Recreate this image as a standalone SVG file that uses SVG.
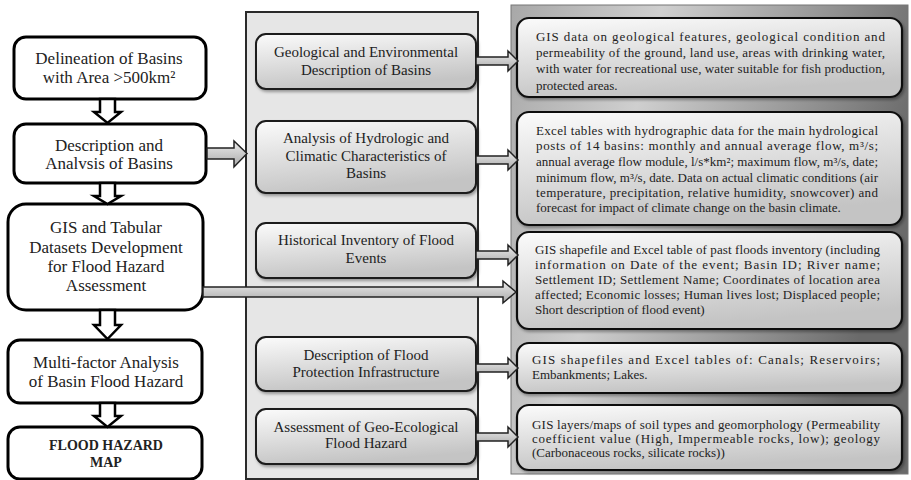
<svg xmlns="http://www.w3.org/2000/svg" width="911" height="480" viewBox="0 0 911 480">
<defs>
<linearGradient id="rp" x1="0" y1="0" x2="1" y2="0.3">
<stop offset="0" stop-color="#a8a8a8"/>
<stop offset="0.35" stop-color="#cfcfcf"/>
<stop offset="0.7" stop-color="#9a9a9a"/>
<stop offset="1" stop-color="#6a6a6a"/>
</linearGradient>
<linearGradient id="bx" x1="0" y1="0" x2="0.3" y2="1">
<stop offset="0" stop-color="#fbfbfb"/>
<stop offset="1" stop-color="#c4c4c4"/>
</linearGradient>
<linearGradient id="ar" x1="0" y1="0" x2="0" y2="1">
<stop offset="0" stop-color="#ececec"/>
<stop offset="1" stop-color="#a9a9a9"/>
</linearGradient>
<filter id="sh" x="-5%" y="-10%" width="115%" height="130%">
<feDropShadow dx="1.5" dy="2" stdDeviation="1.5" flood-color="#000" flood-opacity="0.35"/>
</filter>
</defs>
<style>
.lb{fill:#fff;stroke:#000;stroke-width:3}
.mb{fill:url(#bx);stroke:#1a1a1a;stroke-width:2;filter:url(#sh)}
.rb{fill:url(#bx);stroke:#111;stroke-width:2.2;filter:url(#sh)}
.lt{font-family:"Liberation Serif",serif;font-size:17px;fill:#222;text-anchor:middle}
.lbold{font-family:"Liberation Serif",serif;font-size:14px;font-weight:bold;fill:#222;text-anchor:middle}
.mt{font-family:"Liberation Serif",serif;font-size:15px;fill:#222;text-anchor:middle}
.rt{font-family:"Liberation Serif",serif;font-size:13px;fill:#222}
.da{fill:#fff;stroke:#000;stroke-width:2.5;stroke-linejoin:miter}
.ha{fill:url(#ar);stroke:#222;stroke-width:1.5}
</style>

<rect x="511" y="5" width="397" height="469" fill="url(#rp)" stroke="#777" stroke-width="1"/>
<rect x="246" y="12" width="232" height="467" fill="#e6e6e6" stroke="#2a2a2a" stroke-width="2"/>

<g id="n1"><rect class="lb" x="14" y="37" width="192" height="62" rx="12"/>
<text class="lt" x="109" y="64">Delineation of Basins</text>
<text class="lt" x="109" y="83">with Area &gt;500km²</text></g>
<g id="n2"><rect class="lb" x="14" y="124" width="192" height="59" rx="12"/>
<text class="lt" x="109" y="151">Description and</text>
<text class="lt" x="109" y="169">Analvsis of Basins</text></g>
<g id="n3"><rect class="lb" x="8" y="204" width="195" height="106" rx="18"/>
<text class="lt" x="106" y="233">GIS and Tabular</text>
<text class="lt" x="106" y="253">Datasets Development</text>
<text class="lt" x="106" y="272">for Flood Hazard</text>
<text class="lt" x="106" y="291">Assessment</text></g>
<g id="n4"><rect class="lb" x="8" y="340" width="194" height="63" rx="12"/>
<text class="lt" x="106" y="368">Multi-factor Analysis</text>
<text class="lt" x="106" y="387">of Basin Flood Hazard</text></g>
<g id="n5"><rect class="lb" x="8" y="427" width="194" height="52" rx="12"/>
<text class="lbold" x="106" y="450">FLOOD  HAZARD</text>
<text class="lbold" x="106" y="467">MAP</text></g>

<g id="m1"><rect class="mb" x="256" y="34" width="220" height="55" rx="10"/>
<text class="mt" x="366" y="57">Geological and Environmental</text>
<text class="mt" x="366" y="75">Description of Basins</text></g>
<g id="m2"><rect class="mb" x="256" y="121" width="220" height="72" rx="10"/>
<text class="mt" x="366" y="143">Analysis of Hydrologic and</text>
<text class="mt" x="366" y="161">Climatic Characteristics of</text>
<text class="mt" x="366" y="178">Basins</text></g>
<g id="m3"><rect class="mb" x="256" y="223" width="220" height="55" rx="10"/>
<text class="mt" x="366" y="245">Historical Inventory of Flood</text>
<text class="mt" x="366" y="263">Events</text></g>
<g id="m4"><rect class="mb" x="256" y="337" width="220" height="54" rx="10"/>
<text class="mt" x="366" y="360">Description of Flood</text>
<text class="mt" x="366" y="377">Protection Infrastructure</text></g>
<g id="m5"><rect class="mb" x="256" y="409" width="220" height="55" rx="10"/>
<text class="mt" x="366" y="432">Assessment of Geo-Ecological</text>
<text class="mt" x="366" y="448">Flood Hazard</text></g>

<g id="r1"><rect class="rb" x="517" y="18" width="385" height="79" rx="12"/>
<text class="rt" x="536" y="41" textLength="349" lengthAdjust="spacing">GIS data on geological features, geological condition and</text>
<text class="rt" x="536" y="57" textLength="349" lengthAdjust="spacing">permeability of the ground, land use, areas with drinking water,</text>
<text class="rt" x="536" y="73" textLength="349" lengthAdjust="spacing">with water for recreational use, water suitable for fish production,</text>
<text class="rt" x="536" y="90">protected areas.</text></g>
<g id="r2"><rect class="rb" x="517" y="112" width="385" height="113" rx="12"/>
<text class="rt" x="536" y="135" textLength="342" lengthAdjust="spacing">Excel tables with hydrographic data for the main hydrological</text>
<text class="rt" x="536" y="150" textLength="342" lengthAdjust="spacing">posts of 14 basins: monthly and annual average flow, m³/s;</text>
<text class="rt" x="536" y="166" textLength="342" lengthAdjust="spacing">annual average flow module, l/s*km²; maximum flow, m³/s, date;</text>
<text class="rt" x="536" y="182" textLength="342" lengthAdjust="spacing">minimum flow, m³/s, date. Data on actual climatic conditions (air</text>
<text class="rt" x="536" y="197" textLength="342" lengthAdjust="spacing">temperature, precipitation, relative humidity, snowcover) and</text>
<text class="rt" x="536" y="212">forecast for impact of climate change on the basin climate.</text></g>
<g id="r3"><rect class="rb" x="517" y="232" width="385" height="97" rx="12"/>
<text class="rt" x="535" y="254" textLength="345" lengthAdjust="spacing">GIS shapefile and Excel table of past floods  inventory (including</text>
<text class="rt" x="535" y="269" textLength="345" lengthAdjust="spacing">information on Date of the event; Basin ID; River name;</text>
<text class="rt" x="535" y="284" textLength="345" lengthAdjust="spacing">Settlement ID; Settlement Name; Coordinates of location area</text>
<text class="rt" x="535" y="299" textLength="345" lengthAdjust="spacing">affected; Economic losses; Human lives lost; Displaced people;</text>
<text class="rt" x="535" y="314">Short description of flood event)</text></g>
<g id="r4"><rect class="rb" x="517" y="343" width="385" height="50" rx="12"/>
<text class="rt" x="532" y="364" textLength="348" lengthAdjust="spacing">GIS shapefiles and Excel tables of: Canals; Reservoirs;</text>
<text class="rt" x="532" y="379">Embankments; Lakes.</text></g>
<g id="r5"><rect class="rb" x="517" y="405" width="385" height="65" rx="12"/>
<text class="rt" x="532" y="429" textLength="348" lengthAdjust="spacing">GIS layers/maps of soil types and geomorphology (Permeability</text>
<text class="rt" x="532" y="443" textLength="348" lengthAdjust="spacing">coefficient value (High, Impermeable rocks, low); geology</text>
<text class="rt" x="532" y="457">(Carbonaceous rocks, silicate rocks))</text></g>

<g id="connectors">
<polygon class="da" points="100,99 115,99 115,112 121,112 107.5,123 94,112 100,112"/>
<polygon class="da" points="100,183 115,183 115,196 121,196 107.5,204 94,196 100,196"/>
<polygon class="da" points="100,310 115,310 115,325 121,325 107.5,339 94,325 100,325"/>
<polygon class="da" points="100,403 115,403 115,416 121,416 107.5,427 94,416 100,416"/>
<polygon class="ha" points="207,148 234,148 234,141 247,153.5 234,167 234,159 207,159"/>
<polygon class="ha" points="203,287 503,287 503,281 516,292 503,303 503,297 203,297"/>
<polygon class="ha" points="476,57 508,57 508,51 518,61 508,71 508,65 476,65"/>
<polygon class="ha" points="476,156 508,156 508,150 518,160 508,170 508,164 476,164"/>
<polygon class="ha" points="476,251 508,251 508,245 518,255 508,265 508,259 476,259"/>
<polygon class="ha" points="476,364 508,364 508,358 518,368 508,378 508,372 476,372"/>
<polygon class="ha" points="476,433 508,433 508,427 518,437 508,447 508,441 476,441"/>
</g>
</svg>
